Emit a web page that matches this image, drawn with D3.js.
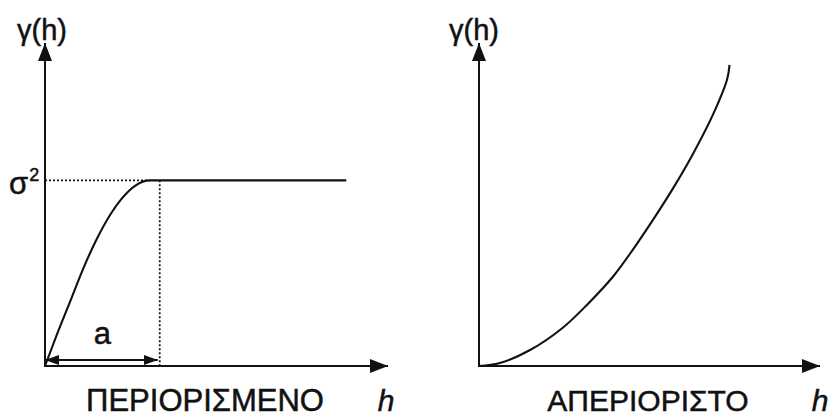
<!DOCTYPE html>
<html>
<head>
<meta charset="utf-8">
<script src="https://cdn.jsdelivr.net/npm/d3@7"></script>
<style>
  html, body { margin: 0; padding: 0; background: #fff; }
  svg { display: block; }
  text { font-family: "Liberation Sans", Arial, sans-serif; fill: #111; stroke: #111; stroke-width: 0.5px; }
</style>
</head>
<body>
<svg id="chart" width="830" height="418"></svg>
<script>
// ---- data ----
const panelTitles = ["ΠΕΡΙΟΡΙΣΜΕΝΟ", "ΑΠΕΡΙΟΡΙΣΤΟ"];
const yLabel = "γ(h)";
const xLabel = "h";
const sillLabel = "σ";
const sillExp = "2";
const rangeLabel = "a";

// bounded variogram (reaches the sill)
const boundedH     = [0, 0.10, 0.22, 0.33, 0.45, 0.56, 0.66, 0.78, 0.905];
const boundedGamma = [0, 0.165, 0.352, 0.525, 0.688, 0.812, 0.900, 0.972, 1.0];
const sillValue = 1.0;
const rangeValue = 0.99;
const sillEnd = 2.6;

// unbounded variogram
const unboundedH     = [0, 0.18, 0.44, 0.72, 0.93, 1.16, 1.33, 1.50, 1.67, 1.84, 2.02, 2.14, 2.16];
const unboundedGamma = [0, 0.016, 0.086, 0.205, 0.329, 0.485, 0.630, 0.787, 0.954, 1.137, 1.358, 1.546, 1.622];

// ---- drawing ----
const svg = d3.select("#chart");
const ink = "#111";

const defs = svg.append("defs");
defs.append("marker")
  .attr("id", "axisArrow")
  .attr("viewBox", "0 0 18 16")
  .attr("refX", 18).attr("refY", 8)
  .attr("markerWidth", 18).attr("markerHeight", 16)
  .attr("markerUnits", "userSpaceOnUse")
  .attr("orient", "auto")
  .append("path").attr("d", "M0,1 L18,8 L0,15 Z").attr("fill", ink);
defs.append("marker")
  .attr("id", "dimEnd").attr("viewBox", "0 0 14 10")
  .attr("refX", 14).attr("refY", 5)
  .attr("markerWidth", 14).attr("markerHeight", 10)
  .attr("markerUnits", "userSpaceOnUse").attr("orient", "auto")
  .append("path").attr("d", "M0,0 L14,5 L0,10 Z").attr("fill", ink);
defs.append("marker")
  .attr("id", "dimStart").attr("viewBox", "0 0 14 10")
  .attr("refX", 0).attr("refY", 5)
  .attr("markerWidth", 14).attr("markerHeight", 10)
  .attr("markerUnits", "userSpaceOnUse").attr("orient", "auto")
  .append("path").attr("d", "M14,0 L0,5 L14,10 Z").attr("fill", ink);

const panels = [
  { x0: 45, x1: 388, xMax: 2.96, title: panelTitles[0], titleX: 205, titleSize: 31, hX: 386, yLab: 42 },
  { x0: 479, x1: 820, xMax: 2.94, title: panelTitles[1], titleX: 648, titleSize: 30, hX: 820, yLab: 474 }
];
const yTop = 43, yBase = 366, yMax = 1.74;

panels.forEach((p, i) => {
  const x = d3.scaleLinear().domain([0, p.xMax]).range([p.x0, p.x1]);
  const y = d3.scaleLinear().domain([0, yMax]).range([yBase, yTop]);
  const g = svg.append("g");

  // axes
  g.append("line").attr("x1", x(0)).attr("y1", y(0)).attr("x2", x(0)).attr("y2", y(yMax))
    .attr("stroke", ink).attr("stroke-width", 2).attr("marker-end", "url(#axisArrow)");
  g.append("line").attr("x1", x(0) - 1).attr("y1", y(0)).attr("x2", x(p.xMax)).attr("y2", y(0))
    .attr("stroke", ink).attr("stroke-width", 2).attr("marker-end", "url(#axisArrow)");

  // axis labels
  g.append("text").attr("x", p.yLab).attr("y", 40).attr("text-anchor", "middle")
    .attr("font-size", 29).text(yLabel);
  g.append("text").attr("x", p.hX).attr("y", 411).attr("text-anchor", "middle")
    .attr("font-size", 30).attr("font-style", "italic").text(xLabel);
  g.append("text").attr("x", p.titleX).attr("y", 411).attr("text-anchor", "middle")
    .attr("font-size", p.titleSize).text(p.title);

  const line = d3.line().x(d => x(d[0])).y(d => y(d[1]));

  if (i === 0) {
    // dotted guides
    g.append("line").attr("x1", x(0)).attr("x2", x(boundedH[boundedH.length - 1]))
      .attr("y1", y(sillValue)).attr("y2", y(sillValue))
      .attr("stroke", ink).attr("stroke-width", 1.8).attr("stroke-dasharray", "2,2");
    g.append("line").attr("x1", x(rangeValue)).attr("x2", x(rangeValue))
      .attr("y1", y(sillValue)).attr("y2", y(0))
      .attr("stroke", ink).attr("stroke-width", 1.8).attr("stroke-dasharray", "2,2");
    // curve + sill as one smooth path
    const pts = boundedH.map((h, k) => [h, boundedGamma[k]]).concat([[sillEnd, sillValue]]);
    g.append("path").attr("d", line.curve(d3.curveMonotoneX)(pts))
      .attr("fill", "none").attr("stroke", ink).attr("stroke-width", 2.1);
    // range dimension arrow
    g.append("line").attr("x1", x(0)).attr("x2", x(rangeValue) - 2)
      .attr("y1", y(0) - 6).attr("y2", y(0) - 6)
      .attr("stroke", ink).attr("stroke-width", 2)
      .attr("marker-start", "url(#dimStart)").attr("marker-end", "url(#dimEnd)");
    g.append("text").attr("x", x(rangeValue / 2)).attr("y", y(0) - 22).attr("text-anchor", "middle")
      .attr("font-size", 31).text(rangeLabel);
    // sill label
    const t = g.append("text").attr("x", 9).attr("y", y(sillValue) + 14).attr("font-size", 31);
    t.append("tspan").text(sillLabel);
    t.append("tspan").attr("dy", -13).attr("dx", 1).attr("font-size", 18).text(sillExp);
  } else {
    const pts = unboundedH.map((h, k) => [h, unboundedGamma[k]]);
    g.append("path").attr("d", line.curve(d3.curveCatmullRom)(pts))
      .attr("fill", "none").attr("stroke", ink).attr("stroke-width", 2.1);
  }
});
</script>
</body>
</html>
